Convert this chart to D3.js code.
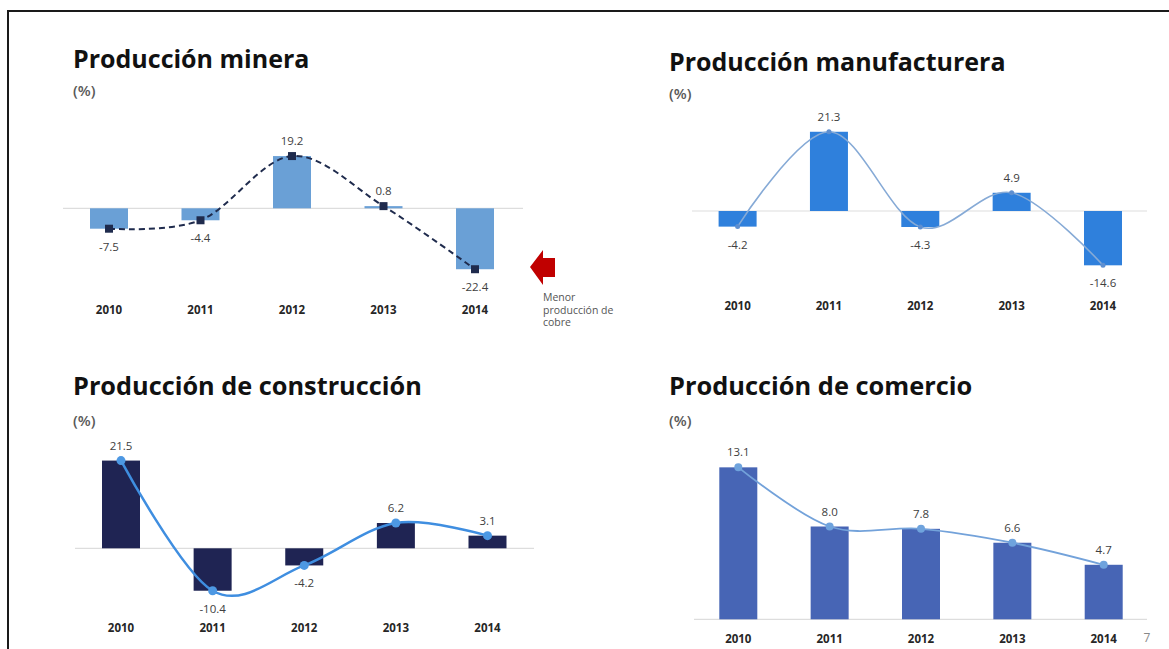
<!DOCTYPE html>
<html>
<head>
<meta charset="utf-8">
<script src="https://cdn.jsdelivr.net/npm/d3@7"></script>
<style>
  body { margin: 0; background: #fff; }
  svg { display: block; font-family: "Open Sans", "Noto Sans", sans-serif; }
</style>
</head>
<body>
<svg width="1169" height="649"></svg>
<script>
// data
var years = ["2010", "2011", "2012", "2013", "2014"];
var mineraValues = [-7.5, -4.4, 19.2, 0.8, -22.4];
var manufacturaValues = [-4.2, 21.3, -4.3, 4.9, -14.6];
var construccionValues = [21.5, -10.4, -4.2, 6.2, 3.1];
var comercioValues = [13.1, 8.0, 7.8, 6.6, 4.7];
var titles = ["Producción minera", "Producción manufacturera", "Producción de construcción", "Producción de comercio"];
var noteLines = ["Menor", "producción de", "cobre"];

var svg = d3.select("svg");

// frame of the slide
svg.append("line").attr("x1", 8).attr("x2", 1169).attr("y1", 11).attr("y2", 11)
  .attr("stroke", "#1a1a1a").attr("stroke-width", 2);
svg.append("line").attr("x1", 8).attr("x2", 8).attr("y1", 10).attr("y2", 649)
  .attr("stroke", "#1a1a1a").attr("stroke-width", 2);

var panels = [
  { title: titles[0], values: mineraValues, tx: 73, ty: 68, fs: 25, py: 96,
    x0: 109, x1: 475, axisL: 63, axisR: 523, zero: 208.3, ppu: 2.72, yearY: 314,
    bar: "#6aa0d6", line: "#1f2b4d", lineW: 2, dash: "6,4", marker: "square", mSize: 8, mFill: "#1f2b4d" },
  { title: titles[1], values: manufacturaValues, tx: 669, ty: 71, fs: 25, py: 99,
    x0: 737.6, x1: 1103, axisL: 692, axisR: 1147, zero: 211, ppu: 3.72, yearY: 310,
    bar: "#2f80dc", line: "#86aad6", lineW: 1.6, dash: null, marker: "circle", mSize: 2.5, mFill: "#5e8fd0" },
  { title: titles[2], values: construccionValues, tx: 73, ty: 395, fs: 25.3, py: 426,
    x0: 121, x1: 487.5, axisL: 75, axisR: 534, zero: 548.3, ppu: 4.08, yearY: 632,
    bar: "#1f2453", line: "#3f8ee0", lineW: 2.5, dash: null, marker: "circle", mSize: 4.5, mFill: "#4d98e3" },
  { title: titles[3], values: comercioValues, tx: 669, ty: 395, fs: 25.4, py: 426,
    x0: 738.3, x1: 1103.7, axisL: 694, axisR: 1147, zero: 619.3, ppu: 11.6, yearY: 643,
    bar: "#4765b5", line: "#73a2da", lineW: 1.8, dash: null, marker: "circle", mSize: 4, mFill: "#6fa3dd" }
];

panels.forEach(function (p) {
  var g = svg.append("g");

  var x = d3.scalePoint().domain(years).range([p.x0, p.x1]);
  var y = d3.scaleLinear().domain([-25, 25]).range([p.zero + 25 * p.ppu, p.zero - 25 * p.ppu]);
  var barW = 38;

  g.append("text").attr("x", p.tx).attr("y", p.ty)
    .attr("font-size", p.fs).attr("font-weight", 700).attr("fill", "#111")
    .text(p.title);
  g.append("text").attr("x", p.tx).attr("y", p.py)
    .attr("font-size", 15).attr("font-weight", 600).attr("fill", "#595959")
    .text("(%)");

  g.append("line").attr("x1", p.axisL).attr("x2", p.axisR)
    .attr("y1", y(0)).attr("y2", y(0))
    .attr("stroke", "#dddddd").attr("stroke-width", 1.2);

  g.selectAll("rect.bar").data(p.values).enter().append("rect")
    .attr("class", "bar")
    .attr("x", function (d, i) { return x(years[i]) - barW / 2; })
    .attr("width", barW)
    .attr("y", function (d) { return Math.min(y(d), y(0)); })
    .attr("height", function (d) { return Math.max(Math.abs(y(d) - y(0)), 1.5); })
    .attr("fill", p.bar);

  var line = d3.line()
    .x(function (d, i) { return x(years[i]); })
    .y(function (d) { return y(d); })
    .curve(d3.curveCatmullRom.alpha(0));

  g.append("path").datum(p.values)
    .attr("d", line)
    .attr("fill", "none")
    .attr("stroke", p.line)
    .attr("stroke-width", p.lineW)
    .attr("stroke-dasharray", p.dash);

  if (p.marker == "square") {
    g.selectAll("rect.mk").data(p.values).enter().append("rect")
      .attr("class", "mk")
      .attr("x", function (d, i) { return x(years[i]) - p.mSize / 2; })
      .attr("y", function (d) { return y(d) - p.mSize / 2; })
      .attr("width", p.mSize).attr("height", p.mSize)
      .attr("fill", p.mFill);
  } else {
    g.selectAll("circle.mk").data(p.values).enter().append("circle")
      .attr("class", "mk")
      .attr("cx", function (d, i) { return x(years[i]); })
      .attr("cy", function (d) { return y(d); })
      .attr("r", p.mSize)
      .attr("fill", p.mFill);
  }

  g.selectAll("text.val").data(p.values).enter().append("text")
    .attr("class", "val")
    .attr("x", function (d, i) { return x(years[i]); })
    .attr("y", function (d) { return d >= 0 ? y(d) - 11 : y(d) + 22; })
    .attr("text-anchor", "middle")
    .attr("font-size", 11.5).attr("fill", "#404040")
    .text(function (d) { return d.toFixed(1); });

  g.selectAll("text.year").data(years).enter().append("text")
    .attr("class", "year")
    .attr("x", function (d) { return x(d); })
    .attr("y", p.yearY)
    .attr("text-anchor", "middle")
    .attr("font-size", 11.5).attr("font-weight", 700).attr("fill", "#262626")
    .text(function (d) { return d; });
});

// red arrow and note next to the mining chart
svg.append("path")
  .attr("d", "M530,267 L543,250 L543,258 L555,258 L555,277 L543,277 L543,285 Z")
  .attr("fill", "#c00000");
svg.selectAll("text.note").data(noteLines).enter().append("text")
  .attr("class", "note")
  .attr("x", 543)
  .attr("y", function (d, i) { return 301 + i * 12.5; })
  .attr("font-size", 10.5).attr("fill", "#555")
  .text(function (d) { return d; });

// slide number
svg.append("text").attr("x", 1147).attr("y", 642)
  .attr("text-anchor", "middle").attr("font-size", 12).attr("fill", "#888")
  .text("7");
</script>
</body>
</html>
